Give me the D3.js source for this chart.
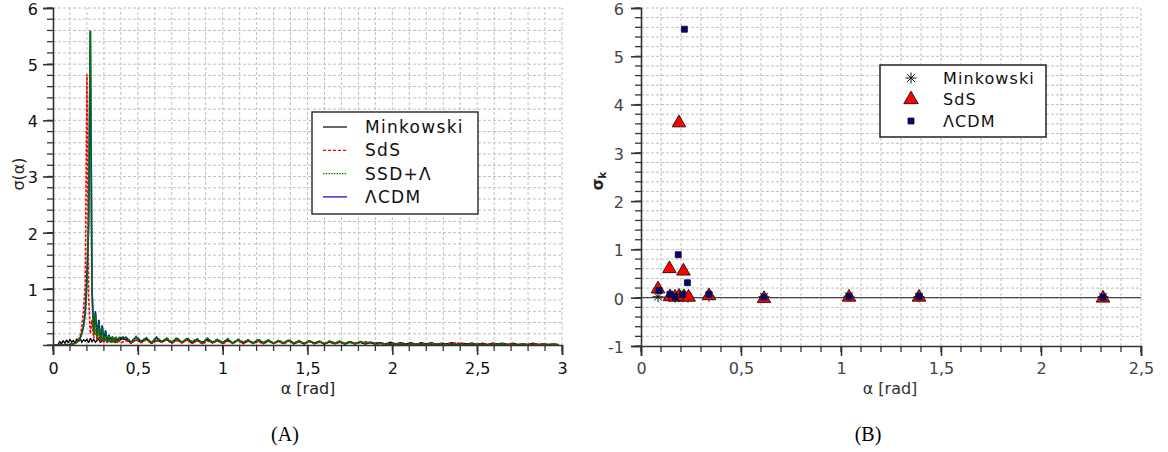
<!DOCTYPE html>
<html>
<head>
<meta charset="utf-8">
<script src="https://cdn.jsdelivr.net/npm/d3@7"></script>
<style>
  body { margin: 0; background: #fff; }
  svg { display: block; font-family: "DejaVu Sans", sans-serif; }
</style>
</head>
<body>
<svg id="chart" width="1168" height="452"></svg>
<script>
// ---------- Panel A: σ(α) sampled curves ----------
// sampling grid: 0.01 rad steps across the lensing peak, 0.03 rad along the tail
const alphaHead = d3.range(0, 41).map(i => +(i * 0.01).toFixed(2));
const alphaTail = d3.range(0, 86).map(i => +(0.43 + i * 0.03).toFixed(2));
const alphaGrid = alphaHead.concat(alphaTail);

const minkowskiCurve = [
  0, 0, 0, 0.01, 0.06, 0.02, 0.08, 0.03, 0.09, 0.04, 0.10, 0.05, 0.08, 0.03, 0.11, 0.06, 0.12, 0.05, 0.09, 0.07,
  0.10, 0.04, 0.12, 0.06, 0.10, 0.05, 0.08, 0.11, 0.04, 0.09, 0.06, 0.10, 0.05, 0.08, 0.12, 0.06, 0.09, 0.05, 0.10, 0.07, 0.11,
  0.10, 0.04, 0.09, 0.05, 0.11, 0.03, 0.08, 0.06, 0.10, 0.04,
  0.09, 0.05, 0.10, 0.03, 0.08, 0.05, 0.09, 0.04, 0.08, 0.03,
  0.08, 0.04, 0.09, 0.03, 0.07, 0.04, 0.08, 0.03, 0.07, 0.03,
  0.07, 0.03, 0.08, 0.02, 0.06, 0.03, 0.07, 0.03, 0.06, 0.02,
  0.06, 0.03, 0.05, 0.02, 0.06, 0.03, 0.05, 0.02, 0.05, 0.03,
  0.04, 0.02, 0.05, 0.02, 0.04, 0.02, 0.04, 0.01, 0.04, 0.02,
  0.04, 0.01, 0.03, 0.02, 0.04, 0.01, 0.03, 0.02, 0.03, 0.01,
  0.03, 0.01, 0.03, 0.02, 0.03, 0.01, 0.03, 0.01, 0.02, 0.01,
  0.03, 0.01, 0.02, 0.01, 0.02, 0.01
];
const sdsCurve = [
  0, 0, 0, 0, 0, 0, 0, 0, 0, 0, 0.01, 0.01, 0.02,
  0.03, 0.05, 0.09, 0.16, 0.32, 0.62, 1.05, 4.82,
  0.85, 0.20, 0.45, 0.12, 0.28, 0.08, 0.20, 0.06, 0.14, 0.05,
  0.11, 0.04, 0.10, 0.05, 0.09, 0.04, 0.10, 0.05, 0.09, 0.04,
  0.08, 0.03, 0.10, 0.04, 0.09, 0.03, 0.08, 0.05, 0.09, 0.03,
  0.08, 0.04, 0.09, 0.03, 0.08, 0.02, 0.07, 0.04, 0.08, 0.02,
  0.07, 0.03, 0.08, 0.02, 0.07, 0.03, 0.06, 0.02, 0.07, 0.03,
  0.06, 0.02, 0.07, 0.03, 0.06, 0.02, 0.06, 0.02, 0.05, 0.02,
  0.05, 0.02, 0.05, 0.03, 0.05, 0.02, 0.05, 0.06, 0.04, 0.02,
  0.03, 0.01, 0.03, 0.02, 0.03, 0.01, 0.02, 0.01, 0.03, 0.01,
  0.03, 0.01, 0.02, 0.01, 0.03, 0.04, 0.02, 0.01, 0.03, 0.01,
  0.02, 0.01, 0.03, 0.01, 0.02, 0.01, 0.02, 0.01, 0.02, 0.01,
  0.02, 0.01, 0.01, 0.01, 0.01, 0
];
const ssdCurve = [
  0, 0, 0, 0, 0, 0, 0, 0, 0.01, 0, 0.01, 0.02, 0.02,
  0.03, 0.05, 0.08, 0.12, 0.20, 0.32, 0.55, 1.10, 2.35, 5.60,
  0.90, 0.18, 0.55, 0.12, 0.42, 0.08, 0.32, 0.06, 0.24,
  0.05, 0.17, 0.04, 0.14, 0.05, 0.15, 0.04, 0.13, 0.14,
  0.14, 0.05, 0.15, 0.07, 0.13, 0.04, 0.14, 0.06, 0.12, 0.05,
  0.13, 0.04, 0.12, 0.06, 0.11, 0.03, 0.12, 0.05, 0.10, 0.04,
  0.11, 0.03, 0.10, 0.05, 0.09, 0.03, 0.10, 0.04, 0.09, 0.03,
  0.08, 0.04, 0.09, 0.03, 0.08, 0.02, 0.08, 0.03, 0.07, 0.02,
  0.07, 0.03, 0.07, 0.02, 0.06, 0.02, 0.06, 0.03, 0.05, 0.02,
  0.03, 0.01, 0.02, 0.01, 0.03, 0.01, 0.02, 0.01, 0.02, 0.01,
  0.02, 0.01, 0.02, 0, 0.02, 0.01, 0.01, 0, 0.02, 0.01,
  0.01, 0, 0.01, 0.01, 0.02, 0, 0.01, 0, 0.01, 0,
  0.01, 0, 0.01, 0, 0.01, 0
];
const lcdmCurve = [
  0, 0, 0, 0, 0, 0, 0, 0, 0.01, 0.01, 0.01, 0.02, 0.02,
  0.03, 0.05, 0.08, 0.13, 0.21, 0.34, 0.60, 1.20, 2.10, 5.58,
  1.00, 0.22, 0.60, 0.15, 0.45, 0.10, 0.35, 0.08, 0.26,
  0.06, 0.18, 0.05, 0.15, 0.06, 0.14, 0.05, 0.12, 0.13,
  0.13, 0.05, 0.14, 0.06, 0.12, 0.04, 0.13, 0.05, 0.11, 0.04,
  0.12, 0.04, 0.11, 0.05, 0.10, 0.03, 0.11, 0.04, 0.09, 0.04,
  0.10, 0.03, 0.09, 0.04, 0.08, 0.03, 0.09, 0.04, 0.08, 0.03,
  0.07, 0.03, 0.08, 0.03, 0.07, 0.02, 0.07, 0.03, 0.06, 0.02,
  0.06, 0.03, 0.06, 0.02, 0.05, 0.02, 0.05, 0.02, 0.04, 0.02,
  0.03, 0.01, 0.02, 0.01, 0.02, 0.01, 0.02, 0.01, 0.02, 0.01,
  0.02, 0.01, 0.01, 0.01, 0.02, 0.01, 0.01, 0, 0.01, 0.01,
  0.01, 0, 0.01, 0.01, 0.01, 0, 0.01, 0, 0.01, 0,
  0.01, 0, 0.01, 0, 0, 0
];

// ---------- Panel B: σ_k at the image separations ----------
const minkowskiAlpha = [0.085, 0.145, 0.17, 0.19, 0.21, 0.235, 0.34, 0.615, 1.04, 1.39, 2.31];
const minkowskiSigma = [0.02, 0.03, 0.01, 0.02, 0.02, 0.01, 0.03, 0.02, 0.03, 0.02, 0.02];
const sdsAlpha = [0.085, 0.142, 0.19, 0.212, 0.145, 0.17, 0.19, 0.215, 0.238, 0.34, 0.615, 1.04, 1.39, 2.31];
const sdsSigma = [0.18, 0.60, 3.62, 0.55, 0.02, 0.01, 0.03, 0.02, 0.01, 0.04, -0.02, 0.01, 0.01, -0.01];
const lcdmAlpha = [0.09, 0.186, 0.217, 0.232, 0.145, 0.17, 0.208, 0.34, 0.615, 1.04, 1.39, 2.31];
const lcdmSigma = [0.15, 0.89, 5.56, 0.31, 0.07, 0.02, 0.07, 0.07, 0.01, 0.03, 0.03, 0.01];

// tick labels
const panelAXTicks = [0, 0.5, 1, 1.5, 2, 2.5, 3];
const panelAYTicks = [1, 2, 3, 4, 5, 6];
const panelBXTicks = [0, 0.5, 1, 1.5, 2, 2.5];
const panelBYTicks = [-1, 0, 1, 2, 3, 4, 5, 6];

const curveNames = ["Minkowski", "SdS", "SSD+Λ", "ΛCDM"];
const pointNames = ["Minkowski", "SdS", "ΛCDM"];

// ---------- drawing ----------
const svg = d3.select("#chart");
const comma = d => String(d).replace(".", ",");
const GRID = "#c0c0c0";
const AXIS = "#333";

const xA = d3.scaleLinear().domain([0, 3]).range([53, 562]);
const yA = d3.scaleLinear().domain([0, 6]).range([345, 8]);
const xB = d3.scaleLinear().domain([0, 2.5]).range([641, 1141]);
const yB = d3.scaleLinear().domain([-1, 6]).range([346, 8]);

function grid(g, x, y, xStep, yStep) {
  const [x0, x1] = x.domain(), [y0, y1] = y.domain();
  const xs = d3.range(Math.round((x1 - x0) / xStep)).map(i => x0 + (i + 1) * xStep);
  const ys = d3.range(Math.round((y1 - y0) / yStep)).map(i => y0 + (i + 1) * yStep);
  g.selectAll(".gv").data(xs).join("line")
    .attr("x1", d => x(d)).attr("x2", d => x(d))
    .attr("y1", y.range()[0]).attr("y2", y.range()[1])
    .attr("stroke", GRID).attr("stroke-width", 1).attr("stroke-dasharray", "3,2");
  g.selectAll(".gh").data(ys).join("line")
    .attr("x1", x.range()[0]).attr("x2", x.range()[1])
    .attr("y1", d => y(d)).attr("y2", d => y(d))
    .attr("stroke", GRID).attr("stroke-width", 1).attr("stroke-dasharray", "3,2");
}

function axes(g, x, y, xTicks, yTicks, xMinor, yMinor, opts) {
  const [x0, x1] = x.domain(), [y0, y1] = y.domain();
  const xm = d3.range(Math.round((x1 - x0) / xMinor) + 1).map(i => x0 + i * xMinor);
  const ym = d3.range(Math.round((y1 - y0) / yMinor) + 1).map(i => y0 + i * yMinor);
  const by = y.range()[0], lx = x.range()[0];
  // minor ticks
  g.append("g").selectAll("line").data(xm).join("line")
    .attr("x1", d => x(d)).attr("x2", d => x(d)).attr("y1", by).attr("y2", by + 6)
    .attr("stroke", AXIS).attr("stroke-width", 1.3);
  g.append("g").selectAll("line").data(ym).join("line")
    .attr("y1", d => y(d)).attr("y2", d => y(d)).attr("x1", lx).attr("x2", lx - 6)
    .attr("stroke", AXIS).attr("stroke-width", 1.3);
  // major ticks + labels
  const ax = g.append("g").attr("transform", `translate(0,${by})`)
    .call(d3.axisBottom(x).tickValues(xTicks).tickFormat(comma).tickSize(10).tickPadding(opts.xPad));
  const ay = g.append("g").attr("transform", `translate(${lx},0)`)
    .call(d3.axisLeft(y).tickValues(yTicks).tickFormat(comma).tickSize(10).tickPadding(opts.yPad));
  [ax, ay].forEach(a => {
    a.select(".domain").attr("stroke", AXIS).attr("stroke-width", 1.6);
    a.selectAll(".tick line").attr("stroke", AXIS).attr("stroke-width", 1.6);
    a.selectAll(".tick text").attr("font-family", "DejaVu Sans, sans-serif")
      .attr("font-size", 16).attr("fill", opts.labelColor);
  });
  ay.selectAll(".tick text").attr("dy", "0.4em");
}

// ----- Panel A -----
const gA = svg.append("g");
grid(gA, xA, yA, 0.1, 0.2);

const curveColors = ["#000000", "#ff0000", "#007a00", "#0000cc"];
const curveDash = [null, "3,1.5", "2.5,1", null];
const curveWidth = [1.4, 1.6, 1.9, 1.6];
const curves = [minkowskiCurve, sdsCurve, ssdCurve, lcdmCurve];
const line = d3.line().x(d => xA(d[0])).y(d => yA(d[1]));
// draw order: ΛCDM underneath, then Minkowski, SdS, SSD+Λ on top
[3, 0, 1, 2].forEach(k => {
  gA.append("path")
    .datum(alphaGrid.map((a, i) => [a, curves[k][i]]))
    .attr("d", line).attr("fill", "none")
    .attr("stroke", curveColors[k]).attr("stroke-width", curveWidth[k])
    .attr("stroke-linejoin", "miter").attr("stroke-miterlimit", 2)
    .attr("stroke-dasharray", curveDash[k]);
});

axes(gA, xA, yA, panelAXTicks, panelAYTicks, 0.1, 0.2, { xPad: 8, yPad: 5, labelColor: "#111" });

// legend A
const legA = gA.append("g").attr("transform", "translate(312,112)");
legA.append("rect").attr("width", 166).attr("height", 102)
  .attr("fill", "#fff").attr("stroke", "#333").attr("stroke-width", 1.5);
const legDash = [null, "3,2", "1.5,1.2", null];
curveNames.forEach((name, k) => {
  const yy = 15 + k * 23.3;
  legA.append("line").attr("x1", 11).attr("x2", 35).attr("y1", yy).attr("y2", yy)
    .attr("stroke", curveColors[k]).attr("stroke-width", 1.2).attr("stroke-dasharray", legDash[k]);
  legA.append("text").attr("x", 53).attr("y", yy).attr("dy", "0.36em")
    .attr("font-size", 17).attr("letter-spacing", 1.3).attr("fill", "#111").text(name);
});

gA.append("text").attr("x", 308).attr("y", 394).attr("text-anchor", "middle")
  .attr("font-size", 16).attr("fill", "#222").text("α [rad]");
gA.append("text").attr("transform", "translate(24,174) rotate(-90)").attr("text-anchor", "middle")
  .attr("font-size", 16).attr("fill", "#222").text("σ(α)");
svg.append("text").attr("x", 285).attr("y", 441).attr("text-anchor", "middle")
  .attr("font-family", "Liberation Serif, serif").attr("font-size", 20).text("(A)");

// ----- Panel B -----
const gB = svg.append("g");
grid(gB, xB, yB, 0.1, 0.2);
gB.append("line").attr("x1", xB(0)).attr("x2", xB(2.5)).attr("y1", yB(0)).attr("y2", yB(0))
  .attr("stroke", "#444").attr("stroke-width", 1.3);

const starPath = r => {
  const c = r * Math.SQRT1_2;
  return `M${-r},0L${r},0M0,${-r}L0,${r}M${-c},${-c}L${c},${c}M${-c},${c}L${c},${-c}`;
};
const triPath = d3.symbol(d3.symbolTriangle, 80)();
const sqPath = d3.symbol(d3.symbolSquare, 36)();

gB.append("g").selectAll("path").data(minkowskiAlpha.map((a, i) => [a, minkowskiSigma[i]])).join("path")
  .attr("transform", d => `translate(${xB(d[0])},${yB(d[1])})`)
  .attr("d", starPath(5.5)).attr("stroke", "#111").attr("stroke-width", 1).attr("fill", "none");
gB.append("g").selectAll("path").data(sdsAlpha.map((a, i) => [a, sdsSigma[i]])).join("path")
  .attr("transform", d => `translate(${xB(d[0])},${yB(d[1])})`)
  .attr("d", triPath).attr("fill", "#ff0000").attr("stroke", "#111").attr("stroke-width", 0.9);
gB.append("g").selectAll("path").data(lcdmAlpha.map((a, i) => [a, lcdmSigma[i]])).join("path")
  .attr("transform", d => `translate(${xB(d[0])},${yB(d[1])})`)
  .attr("d", sqPath).attr("fill", "#00007f").attr("stroke", "#111").attr("stroke-width", 0.8);

axes(gB, xB, yB, panelBXTicks, panelBYTicks, 0.1, 0.2, { xPad: 7, yPad: 7, labelColor: "#444" });

// legend B
const legB = gB.append("g").attr("transform", "translate(880,65)");
legB.append("rect").attr("width", 166).attr("height", 72)
  .attr("fill", "#fff").attr("stroke", "#222").attr("stroke-width", 1.5);
const legSyms = [
  g => g.append("path").attr("d", starPath(5.5)).attr("stroke", "#111").attr("fill", "none"),
  g => g.append("path").attr("d", d3.symbol(d3.symbolTriangle, 90)()).attr("fill", "#ff0000").attr("stroke", "#111").attr("stroke-width", 0.9),
  g => g.append("path").attr("d", sqPath).attr("fill", "#00007f").attr("stroke", "#111").attr("stroke-width", 0.8)
];
pointNames.forEach((name, k) => {
  const yy = 13 + k * 21.5;
  legSyms[k](legB.append("g").attr("transform", `translate(31,${yy})`));
  legB.append("text").attr("x", 63).attr("y", yy).attr("dy", "0.36em")
    .attr("font-size", 16).attr("letter-spacing", 1.1).attr("fill", "#111").text(name);
});

gB.append("text").attr("x", 890).attr("y", 394).attr("text-anchor", "middle")
  .attr("font-size", 16).attr("fill", "#333").text("α [rad]");
const yt = gB.append("text").attr("transform", "translate(603,181) rotate(-90)").attr("text-anchor", "middle")
  .attr("font-size", 15).attr("font-weight", "bold").attr("fill", "#222");
yt.append("tspan").text("σ");
yt.append("tspan").attr("font-size", 10).attr("dy", 3).text("k");
svg.append("text").attr("x", 868).attr("y", 441).attr("text-anchor", "middle")
  .attr("font-family", "Liberation Serif, serif").attr("font-size", 20).text("(B)");
</script>
</body>
</html>
